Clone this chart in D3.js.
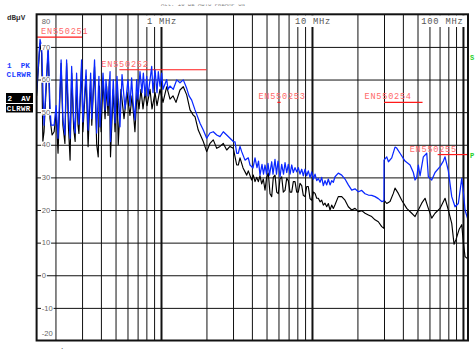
<!DOCTYPE html>
<html>
<head>
<meta charset="utf-8">
<script src="https://cdn.jsdelivr.net/npm/d3@7"></script>
<style>
  html, body { margin: 0; padding: 0; background: #fff; overflow: hidden; }
  svg { display: block; }
</style>
</head>
<body>
<svg id="chart" width="475" height="349"></svg>
<script>
// Conducted emission scan, 150 kHz .. 108 MHz, level in dBµV
// Trace 1: peak detector (PK, clear/write); trace 2: average detector (AV, clear/write)

const pkFreq = [
  0.150, 0.158, 0.162, 0.168, 0.173, 0.179, 0.184, 0.187, 0.196, 0.202,
  0.208, 0.218, 0.224, 0.231, 0.237, 0.244, 0.250, 0.256, 0.264, 0.270,
  0.276, 0.282, 0.286, 0.298, 0.304, 0.319, 0.329, 0.342, 0.348, 0.363,
  0.375, 0.388, 0.394, 0.413, 0.426, 0.432, 0.446, 0.460, 0.463, 0.483,
  0.496, 0.511, 0.535, 0.552, 0.578, 0.604, 0.623, 0.639, 0.653, 0.672,
  0.690, 0.704, 0.726, 0.748, 0.764, 0.784, 0.804, 0.820, 0.868, 0.885,
  0.913, 0.941, 0.960, 0.985, 1.011, 1.031, 1.091, 1.113, 1.147, 1.206,
  1.271, 1.336, 1.405, 1.480, 1.533, 1.597, 1.680, 1.813, 1.906, 2.008,
  2.111, 2.220, 2.339, 2.459, 2.586, 2.724, 2.865, 3.013, 3.092, 3.173,
  3.251, 3.337, 3.424, 3.601, 3.787, 3.887, 4.068, 4.195, 4.324, 4.425,
  4.527, 4.667, 4.775, 4.886, 5.000, 5.114, 5.233, 5.411, 5.520, 5.691,
  5.822, 5.957, 6.142, 6.303, 6.479, 6.629, 6.803, 6.970, 7.154, 7.342,
  7.523, 7.721, 7.924, 8.119, 8.333, 8.551, 8.763, 8.993, 9.230, 9.457,
  9.706, 9.961, 10.21, 10.48, 10.75, 11.02, 11.31, 11.60, 11.89, 12.20,
  12.52, 12.83, 13.17, 13.51, 13.85, 14.21, 14.94, 15.74, 16.55, 17.41,
  18.33, 19.28, 20.28, 21.36, 22.46, 23.62, 24.87, 26.16, 27.51, 28.97,
  29.95, 30.0, 31.27, 32.1, 33.75, 35.49, 36.4, 38.3, 41.34, 44.62,
  46.92, 48.16, 49.42, 50.64, 51.97, 54.65, 57.57, 58.98, 62.12, 65.33,
  70.5, 74.15, 76.1, 80.02, 84.28, 88.64, 93.21, 98.18, 100.9, 103.25,
  107.1, 108
];
const pkLevel = [
  56, 72.3, 70, 46, 58, 70, 52, 46, 46, 52,
  42, 66, 48, 43, 66, 50, 42, 64, 48, 43.6,
  62, 50, 46.3, 66, 47, 63, 44.5, 62, 48, 66,
  43.6, 61, 45.5, 62, 50.7, 60, 52, 62.4, 41, 60,
  46.7, 61, 45.5, 61.5, 51, 60, 52, 60.5, 53, 47.6,
  60, 54, 62.4, 56, 62, 55, 61, 55, 64, 56,
  63, 56, 62.4, 58, 62, 57, 60, 57, 58, 57,
  59.9, 59, 59.9, 57.3, 55, 53.7, 50.7, 46.6, 44.5, 42,
  43.6, 44, 43, 42.5, 44, 43, 42, 41, 40.9, 37.4,
  37.4, 39.5, 37.9, 35.3, 36, 33.8, 32.9, 36, 33, 35,
  30.7, 34, 31, 33.8, 31, 34.3, 30.7, 34.8, 31, 35.5,
  31, 35, 30.2, 34, 31, 34.5, 31.5, 34, 31, 33.8,
  31.5, 33, 31.7, 33, 31, 32.5, 30.5, 32.5, 30.5, 32,
  30, 31.7, 29.5, 31, 29, 29.7, 28.5, 30, 27.5, 29,
  27.7, 29.5, 27.7, 29, 28.5, 30.2, 31.3, 30.7, 29.5, 27.7,
  26.1, 26.5, 25.6, 26, 25, 24.6, 24.5, 24.1, 23.5, 22.6,
  22.8, 35.3, 36.3, 34.8, 36, 39.3, 39, 37.4, 35, 33.8,
  31.5, 29.2, 30, 33.8, 30.5, 36.3, 37.4, 30.2, 29.2, 31.5,
  33.3, 35, 36.3, 32, 24.1, 21, 22, 29.7, 25, 20,
  17.5, 17
];

const avFreq = [
  0.150, 0.158, 0.162, 0.165, 0.168, 0.173, 0.179, 0.184, 0.190, 0.196,
  0.202, 0.208, 0.218, 0.224, 0.231, 0.237, 0.244, 0.250, 0.256, 0.264,
  0.270, 0.276, 0.282, 0.286, 0.298, 0.304, 0.319, 0.329, 0.342, 0.348,
  0.363, 0.375, 0.384, 0.391, 0.401, 0.413, 0.426, 0.436, 0.446, 0.455,
  0.463, 0.483, 0.496, 0.511, 0.521, 0.543, 0.569, 0.595, 0.623, 0.643,
  0.672, 0.694, 0.715, 0.737, 0.760, 0.784, 0.808, 0.846, 0.872, 0.913,
  0.941, 0.985, 1.031, 1.091, 1.147, 1.201, 1.257, 1.336, 1.405, 1.480,
  1.557, 1.636, 1.680, 1.765, 1.906, 2.008, 2.111, 2.220, 2.339, 2.459,
  2.586, 2.724, 2.865, 3.013, 3.173, 3.251, 3.337, 3.495, 3.698, 3.787,
  3.986, 4.087, 4.195, 4.305, 4.412, 4.527, 4.646, 4.761, 4.886, 5.010,
  5.139, 5.273, 5.411, 5.545, 5.691, 5.840, 5.984, 6.142, 6.303, 6.459,
  6.629, 6.803, 6.970, 7.154, 7.342, 7.523, 7.721, 7.924, 8.119, 8.333,
  8.551, 8.763, 8.993, 9.230, 9.457, 9.706, 9.961, 10.21, 10.48, 10.75,
  11.02, 11.31, 11.60, 11.89, 12.20, 12.52, 12.83, 13.17, 13.51, 13.85,
  14.21, 14.94, 15.74, 16.55, 17.41, 18.33, 19.28, 20.28, 21.36, 22.46,
  23.62, 24.87, 26.16, 27.51, 28.97, 29.95, 30.0, 31.27, 32.89, 34.58,
  35.49, 37.32, 39.31, 42.43, 45.79, 48.16, 50.64, 53.33, 56.09, 58.98,
  62.12, 65.33, 70.5, 76.1, 80.02, 84.28, 87.3, 90.0, 94.22, 98.18,
  100.6, 103.25, 108
];
const avLevel = [
  55, 71, 68, 41, 44, 56, 69, 48, 43, 44,
  50, 37.4, 65, 46, 40.4, 65, 45, 35.3, 62, 45,
  41, 60, 46, 43.5, 64, 44, 61, 39.4, 60, 46,
  64, 40, 36.3, 58, 44, 60, 48, 58, 49, 60,
  36.3, 57, 44, 58, 40, 57, 48, 56, 49, 55,
  44, 56, 51, 57, 51, 56, 52, 57, 51, 56,
  52, 57, 53, 57.8, 54, 55, 53, 56.8, 57.8, 55.3,
  50.7, 49.1, 48.6, 44.5, 41, 37.9, 40.4, 41.5, 38.9, 39.5,
  40.4, 38.4, 39.5, 38.9, 33.8, 33.8, 36, 32.9, 30.7, 32,
  29.2, 30.7, 28.7, 30, 28.7, 30.5, 28, 29.5, 26.1, 30,
  31.3, 25, 24.1, 30, 30.7, 25.5, 25, 29.5, 30.2, 25.5,
  26, 29.7, 29, 25.5, 25.5, 28.7, 28.7, 25.5, 25.5, 28.2,
  27.5, 24.5, 24.1, 27.2, 27.2, 23.5, 23, 25.5, 25.1, 23.6,
  23.6, 22.5, 23, 21.5, 22.1, 21, 22, 20, 21.5, 20.5,
  21.6, 24.1, 24.1, 23, 21, 20, 20.5, 19.5, 19.8, 19,
  18.5, 18, 17, 16.4, 14.9, 14.4, 23, 22, 22.6, 25.1,
  26.7, 25.1, 23, 20.5, 19, 18, 20, 22.1, 23.6, 20.5,
  17.5, 19, 20.5, 23.6, 20, 15.9, 9.5, 11, 14, 15.5,
  10, 5.7, 5
];

// Limit lines
const limitNames = ["EN550251", "EN550252", "EN550253", "EN550254", "EN550255"];
const limitStart = [0.15, 0.53, 5.9, 30, 68];
const limitStop  = [0.30, 2.0, 6.2, 54, 108];
const limitLevel = [73, 63, 53, 53, 37];

// Axes
const levelTicks = [80, 70, 60, 50, 40, 30, 20, 10, 0, -10, -20];
const gridFreqs = [0.2, 0.3, 0.4, 0.5, 0.6, 0.7, 0.8, 0.9,
                   1, 2, 3, 4, 5, 6, 7, 8, 9,
                   10, 20, 30, 40, 50, 60, 70, 80, 90, 100];
const decadeFreqs = [1, 10, 100];
const decadeLabels = ["1 MHz", "10 MHz", "100 MHz"];
const startLabel = "150 kHz";
const stopLabel = "108 MHz";
const fMin = 0.15, fMax = 108;
const lMin = -20, lMax = 80;

// ---- drawing ----
const svg = d3.select("#chart");
const L = 36.6, R = 468, T = 14.3, B = 340.5;

const x = d3.scaleLog().domain([fMin, fMax]).range([L, R]);
const y = d3.scaleLinear().domain([lMin, lMax]).range([B, T]);

const mono = "'Liberation Mono', 'DejaVu Sans Mono', monospace";

// header line, only its lower edge shows below the white band
svg.append("text").attr("x", 161).attr("y", 6).attr("font-family", mono)
  .attr("font-size", 5.6).attr("fill", "#777")
  .text("Att: 10 dB AUTO  PREAMP ON");
svg.append("rect").attr("x", 0).attr("y", 0).attr("width", 475).attr("height", 4.4).attr("fill", "#fff");

// vertical grid
const gx = svg.append("g").attr("transform", `translate(0,${B})`)
  .call(d3.axisBottom(x).tickValues(gridFreqs).tickSize(-(B - T)).tickFormat(""));
gx.select(".domain").remove();
gx.selectAll(".tick line")
  .attr("stroke", "#111")
  .attr("stroke-width", d => decadeFreqs.includes(d) ? 2 : 1);

// horizontal grid
const gy = svg.append("g").attr("transform", `translate(${L},0)`)
  .call(d3.axisLeft(y).tickValues(levelTicks.filter(v => v > lMin && v < lMax))
    .tickSize(-(R - L)).tickFormat(""));
gy.select(".domain").remove();
gy.selectAll(".tick line").attr("stroke", "#111").attr("stroke-width", 1);

// limit lines
const limits = limitNames.map((n, i) => ({ name: n, f0: limitStart[i], f1: limitStop[i], v: limitLevel[i] }));
svg.append("g").selectAll("line").data(limits).join("line")
  .attr("x1", d => x(d.f0)).attr("x2", d => x(d.f1))
  .attr("y1", d => y(d.v)).attr("y2", d => y(d.v))
  .attr("stroke", "#ff1a1a").attr("stroke-width", 1.2);

// traces
svg.append("clipPath").attr("id", "plotClip")
  .append("rect").attr("x", L).attr("y", T).attr("width", R - L).attr("height", B - T);

const line = d3.line().x(d => x(d[0])).y(d => y(d[1]));
const avData = avFreq.map((f, i) => [f, avLevel[i]]);
const pkData = pkFreq.map((f, i) => [f, pkLevel[i]]);

const traces = svg.append("g").attr("clip-path", "url(#plotClip)");
traces.append("path").datum(avData).attr("d", line)
  .attr("fill", "none").attr("stroke", "#000").attr("stroke-width", 1.15)
  .attr("stroke-linejoin", "round");
traces.append("path").datum(pkData).attr("d", line)
  .attr("fill", "none").attr("stroke", "#0a28ff").attr("stroke-width", 1.25)
  .attr("stroke-linejoin", "round");

// limit line names
const limitDx = [4.5, -18, -19, -19.5, -28];
const limitDy = [-3, -3, -3, -3, -3];
svg.append("g").selectAll("text").data(limits).join("text")
  .attr("x", (d, i) => x(d.f0) + limitDx[i])
  .attr("y", (d, i) => y(d.v) + limitDy[i])
  .attr("font-family", mono).attr("font-size", 8.6).attr("letter-spacing", 0.75)
  .attr("fill", "#ff6a6a").text(d => d.name);

// frequency labels at the top, on a white ground
const fl = svg.append("g");
decadeFreqs.forEach((f, i) => {
  const last = i === decadeFreqs.length - 1;
  const t = fl.append("text")
    .attr("x", last ? R - 4.5 : x(f) + 1)
    .attr("y", 24.3)
    .attr("text-anchor", last ? "end" : "middle")
    .attr("font-family", mono).attr("font-size", 8.8).attr("letter-spacing", 0.75)
    .attr("fill", "#555").text(decadeLabels[i]);
  const bb = t.node().getBBox();
  fl.insert("rect", "text").attr("x", bb.x - 1.5).attr("y", T + 1)
    .attr("width", bb.width + 3).attr("height", 27 - T - 1).attr("fill", "#fff");
});

// level labels inside the left edge
const yl = svg.append("g");
levelTicks.forEach(v => {
  const cy = v === lMax ? 21.7 : v === lMin ? 333 : y(v);
  const t = yl.append("text").attr("x", 41.8).attr("y", cy + 2.7)
    .attr("font-family", "'Liberation Sans', Arial, sans-serif")
    .attr("font-size", 7.6).attr("fill", "#666").text(String(v));
  const bb = t.node().getBBox();
  yl.insert("rect", "text").attr("x", bb.x - 0.8).attr("y", cy - 3.2)
    .attr("width", bb.width + 1.6).attr("height", 6.4).attr("fill", "#fff");
});

// frame
svg.append("rect").attr("x", L).attr("y", T).attr("width", R - L).attr("height", B - T)
  .attr("fill", "none").attr("stroke", "#111").attr("stroke-width", 2);

// start / stop frequency
svg.append("text").attr("x", L).attr("y", 354.5).attr("font-family", mono)
  .attr("font-size", 8.8).attr("letter-spacing", 0.75).attr("fill", "#555").text(startLabel);
svg.append("text").attr("x", R).attr("y", 354.5).attr("text-anchor", "end").attr("font-family", mono)
  .attr("font-size", 8.8).attr("letter-spacing", 0.75).attr("fill", "#555").text(stopLabel);

// unit and trace legend on the left
svg.append("text").attr("x", 7).attr("y", 19.5).attr("font-family", mono).attr("font-weight", "bold")
  .attr("font-size", 7.6).attr("fill", "#333").text("dBµV");
svg.append("text").attr("x", 7).attr("y", 67.5).attr("font-family", mono).attr("font-weight", "bold")
  .attr("font-size", 7.6).attr("fill", "#1a3cff").attr("xml:space", "preserve").text("1  PK");
svg.append("text").attr("x", 6.5).attr("y", 77).attr("font-family", mono).attr("font-weight", "bold")
  .attr("font-size", 7.6).attr("letter-spacing", 0.4).attr("fill", "#1a3cff").text("CLRWR");
svg.append("rect").attr("x", 6).attr("y", 93).attr("width", 27).attr("height", 10).attr("fill", "#000");
svg.append("rect").attr("x", 6).attr("y", 104).attr("width", 27).attr("height", 8.5).attr("fill", "#000");
svg.append("text").attr("x", 7.5).attr("y", 101).attr("font-family", mono).attr("font-weight", "bold")
  .attr("font-size", 7.6).attr("fill", "#fff").attr("xml:space", "preserve").text("2  AV");
svg.append("text").attr("x", 6.8).attr("y", 111).attr("font-family", mono).attr("font-weight", "bold")
  .attr("font-size", 7.4).attr("letter-spacing", 0.3).attr("fill", "#fff").text("CLRWR");

// markers on the right edge
svg.append("text").attr("x", 470).attr("y", 60).attr("font-family", mono).attr("font-weight", "bold")
  .attr("font-size", 7).attr("fill", "#2ad02a").text("S");
svg.append("text").attr("x", 470).attr("y", 158).attr("font-family", mono).attr("font-weight", "bold")
  .attr("font-size", 7).attr("fill", "#2ad02a").text("P");
</script>
</body>
</html>
